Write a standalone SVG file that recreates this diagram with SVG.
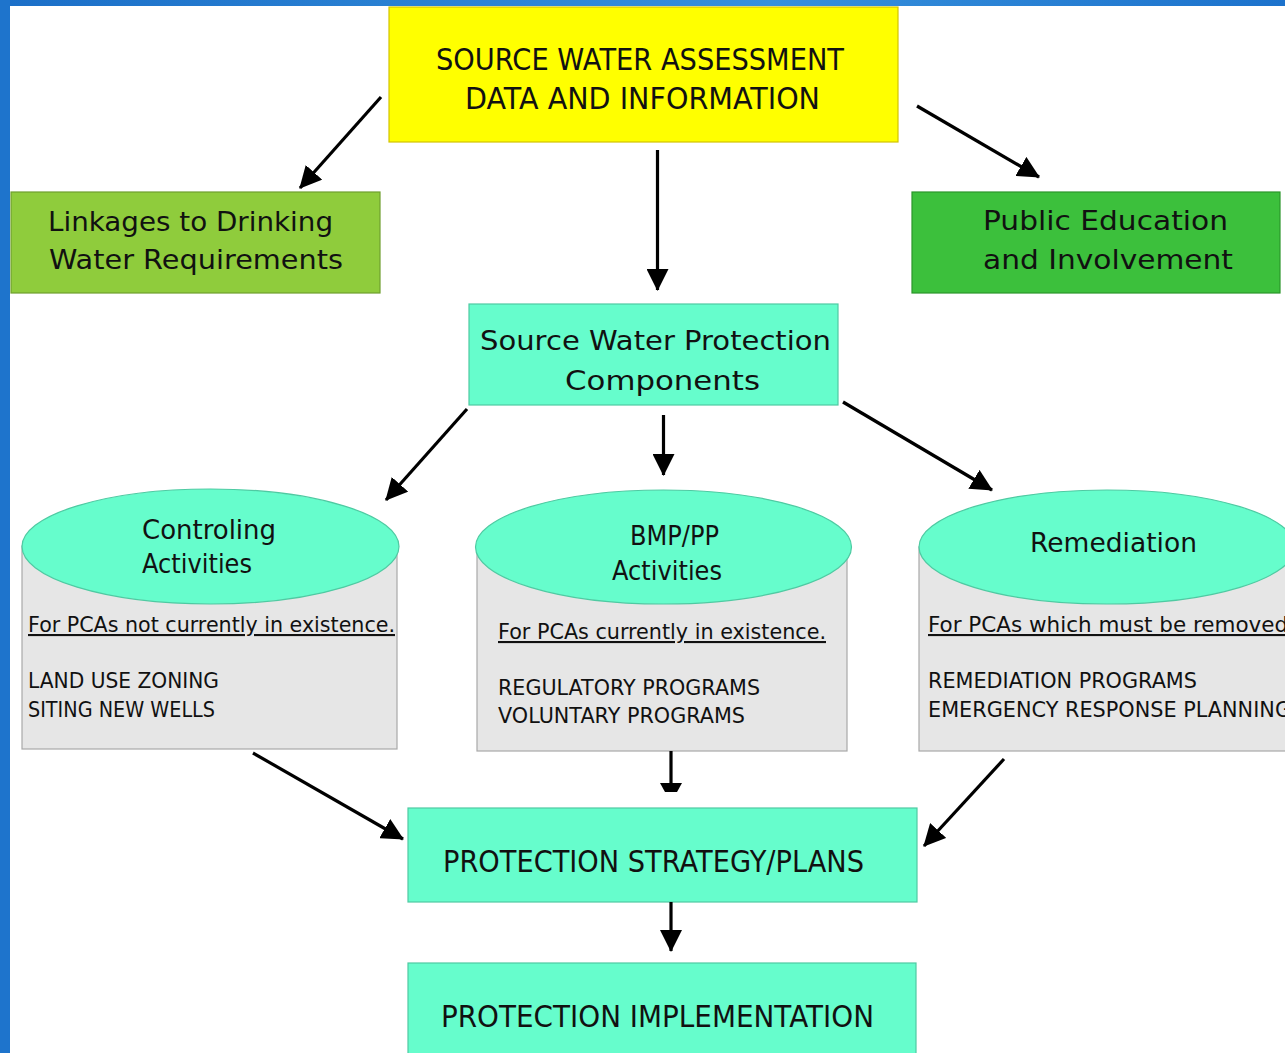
<svg xmlns="http://www.w3.org/2000/svg" width="1285" height="1053" viewBox="0 0 1285 1053">
  <defs>
    <linearGradient id="topbar" x1="0" y1="0" x2="1" y2="0">
      <stop offset="0" stop-color="#1b6fc8"/>
      <stop offset="0.6" stop-color="#3690dc"/>
      <stop offset="1" stop-color="#1c72cc"/>
    </linearGradient>
    <marker id="ah" viewBox="0 0 22 22" refX="21" refY="11" markerWidth="22" markerHeight="22" markerUnits="userSpaceOnUse" orient="auto">
      <path d="M0,0 L22,11 L0,22 Z" fill="#000"/>
    </marker>
    <style>
      text { font-family: "DejaVu Sans", "Liberation Sans", sans-serif; fill: #111; }
      .big { font-size: 31px; }
      .mid { font-size: 27px; }
      .small { font-size: 21px; }
      .ul { text-decoration: underline; }
      .aqua { fill: #66fdcc; stroke: #4fcaa2; stroke-width: 1.2; }
      .body { fill: #e6e6e6; stroke: #a9a9a9; stroke-width: 1.2; }
      .conn { stroke: #000; stroke-width: 3.2; fill: none; marker-end: url(#ah); }
    </style>
  </defs>

  <rect x="0" y="0" width="1285" height="1053" fill="#ffffff"/>
  <rect x="0" y="0" width="1285" height="6" fill="url(#topbar)"/>
  <rect x="0" y="0" width="10" height="1053" fill="#1e74cc"/>

  <g id="node-assessment">
    <rect x="389" y="7" width="509" height="135" fill="#ffff00" stroke="#d2c300" stroke-width="1.2"/>
    <text class="big" x="436" y="70" textLength="408" lengthAdjust="spacingAndGlyphs">SOURCE WATER ASSESSMENT</text>
    <text class="big" x="465" y="109" textLength="355" lengthAdjust="spacingAndGlyphs">DATA AND INFORMATION</text>
  </g>

  <g id="node-linkages">
    <rect x="11" y="192" width="369" height="101" fill="#8fcc3c" stroke="#6e9f2e" stroke-width="1.2"/>
    <text class="mid" x="48" y="231" textLength="285" lengthAdjust="spacingAndGlyphs">Linkages to Drinking</text>
    <text class="mid" x="49" y="269" textLength="294" lengthAdjust="spacingAndGlyphs">Water Requirements</text>
  </g>

  <g id="node-public">
    <rect x="912" y="192" width="368" height="101" fill="#3cc03c" stroke="#2a962a" stroke-width="1.2"/>
    <text class="mid" x="983" y="230" textLength="245" lengthAdjust="spacingAndGlyphs">Public Education</text>
    <text class="mid" x="983" y="269" textLength="250" lengthAdjust="spacingAndGlyphs">and Involvement</text>
  </g>

  <g id="node-components">
    <rect x="469" y="304" width="369" height="101" class="aqua"/>
    <text class="mid" x="480" y="350" textLength="351" lengthAdjust="spacingAndGlyphs">Source Water Protection</text>
    <text class="mid" x="565" y="390" textLength="195" lengthAdjust="spacingAndGlyphs">Components</text>
  </g>

  <g id="node-controling">
    <rect x="22" y="546" width="375" height="203" class="body"/>
    <ellipse cx="210.5" cy="546.5" rx="188.5" ry="57.5" class="aqua"/>
    <text class="mid" x="142" y="539" textLength="134" lengthAdjust="spacingAndGlyphs">Controling</text>
    <text class="mid" x="142" y="573" textLength="110" lengthAdjust="spacingAndGlyphs">Activities</text>
    <text class="small ul" x="28" y="632" textLength="367" lengthAdjust="spacingAndGlyphs">For PCAs not currently in existence.</text>
    <text class="small" x="28" y="688" textLength="191" lengthAdjust="spacingAndGlyphs">LAND USE ZONING</text>
    <text class="small" x="28" y="717" textLength="187" lengthAdjust="spacingAndGlyphs">SITING NEW WELLS</text>
  </g>

  <g id="node-bmp">
    <rect x="477" y="547" width="370" height="204" class="body"/>
    <ellipse cx="663.5" cy="547" rx="188" ry="57" class="aqua"/>
    <text class="mid" x="630" y="545" textLength="89" lengthAdjust="spacingAndGlyphs">BMP/PP</text>
    <text class="mid" x="612" y="580" textLength="110" lengthAdjust="spacingAndGlyphs">Activities</text>
    <text class="small ul" x="498" y="639" textLength="328" lengthAdjust="spacingAndGlyphs">For PCAs currently in existence.</text>
    <text class="small" x="498" y="695" textLength="262" lengthAdjust="spacingAndGlyphs">REGULATORY PROGRAMS</text>
    <text class="small" x="498" y="723" textLength="247" lengthAdjust="spacingAndGlyphs">VOLUNTARY PROGRAMS</text>
  </g>

  <g id="node-remediation">
    <rect x="919" y="547" width="390" height="204" class="body"/>
    <ellipse cx="1107" cy="547" rx="188" ry="57" class="aqua"/>
    <text class="mid" x="1030" y="552" textLength="167" lengthAdjust="spacingAndGlyphs">Remediation</text>
    <text class="small ul" x="928" y="632" textLength="367" lengthAdjust="spacingAndGlyphs">For PCAs which must be removed.</text>
    <text class="small" x="928" y="688" textLength="269" lengthAdjust="spacingAndGlyphs">REMEDIATION PROGRAMS</text>
    <text class="small" x="928" y="717" textLength="363" lengthAdjust="spacingAndGlyphs">EMERGENCY RESPONSE PLANNING</text>
  </g>

  <g id="node-strategy">
    <rect x="408" y="808" width="509" height="94" class="aqua"/>
    <text class="big" x="443" y="872" textLength="421" lengthAdjust="spacingAndGlyphs">PROTECTION STRATEGY/PLANS</text>
  </g>

  <g id="node-implementation">
    <rect x="408" y="963" width="508" height="100" class="aqua"/>
    <text class="big" x="441" y="1027" textLength="433" lengthAdjust="spacingAndGlyphs">PROTECTION IMPLEMENTATION</text>
  </g>

  <g id="connectors">
    <line class="conn" x1="381" y1="97" x2="300" y2="188"/>
    <line class="conn" x1="657.5" y1="150" x2="657.5" y2="290"/>
    <line class="conn" x1="917" y1="106" x2="1039" y2="177"/>
    <line class="conn" x1="467" y1="409" x2="386" y2="500"/>
    <line class="conn" x1="663.5" y1="415" x2="663.5" y2="475"/>
    <line class="conn" x1="843" y1="402" x2="992" y2="490"/>
    <line class="conn" x1="253" y1="753" x2="403" y2="839"/>
    <line x1="671" y1="751" x2="671" y2="785" stroke="#000" stroke-width="3.2"/>
    <polygon points="660,783 682,783 677,792 665,792" fill="#000"/>
    <line class="conn" x1="1004" y1="759" x2="924" y2="846"/>
    <line class="conn" x1="671" y1="902" x2="671" y2="951"/>
  </g>
</svg>
